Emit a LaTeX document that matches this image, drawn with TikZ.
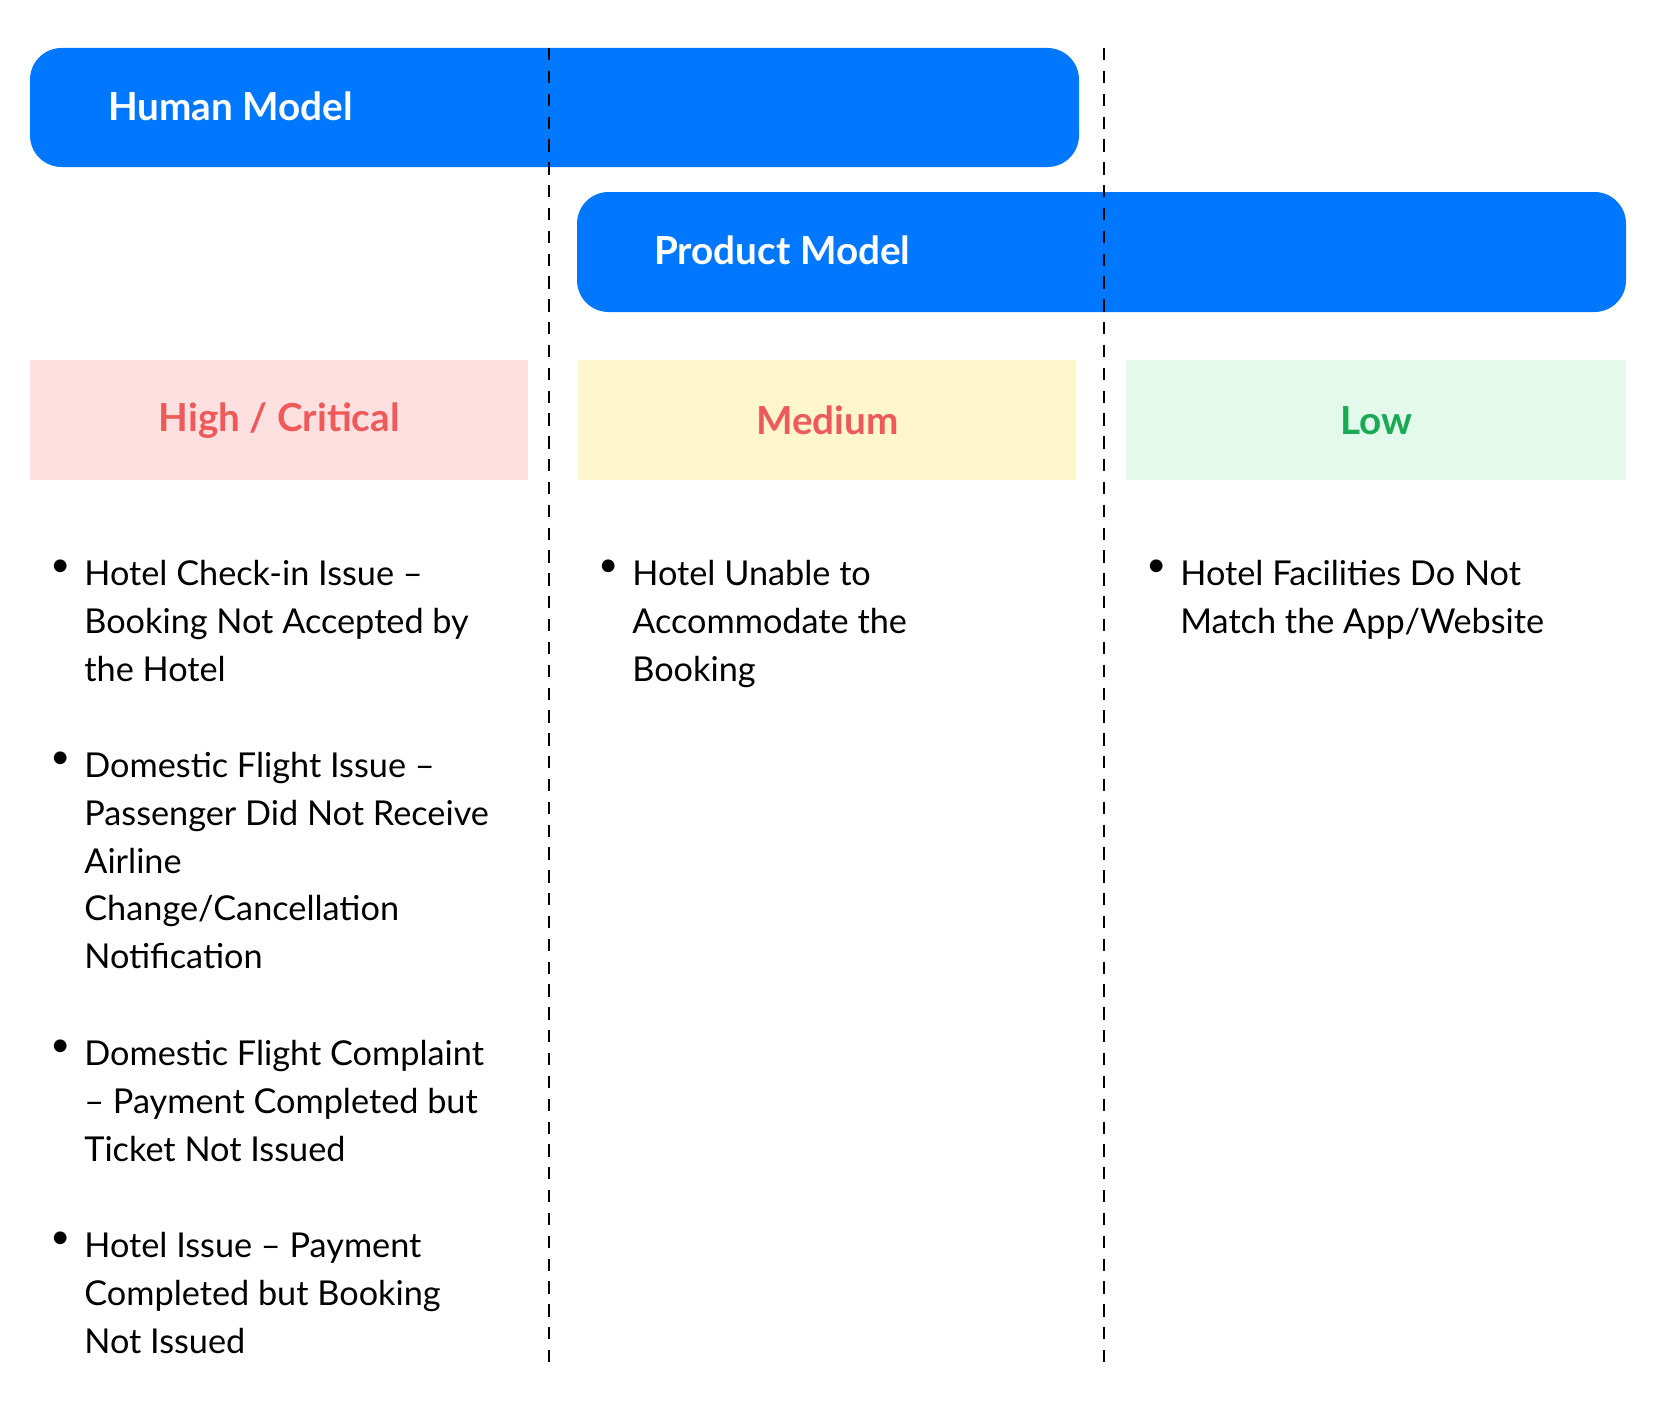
\documentclass[tikz,border=0pt]{standalone}
\usepackage{fontspec}
\setmainfont{Lato}
\usetikzlibrary{positioning}
\definecolor{brandblue}{HTML}{0077FF}
\definecolor{highbg}{HTML}{FFE0E0}
\definecolor{hightxt}{HTML}{EE5A5A}
\definecolor{medbg}{HTML}{FFF6CC}
\definecolor{lowbg}{HTML}{E3F9EC}
\definecolor{lowtxt}{HTML}{1AAA55}
\tikzset{
  model/.style={fill=brandblue, rounded corners=18pt},
  modeltitle/.style={anchor=west, text=white, font=\fontsize{22}{26}\selectfont\bfseries},
  levelbox/.style={minimum width=498*0.02cm, minimum height=120*0.02cm, inner sep=0pt, anchor=north west, font=\fontsize{22}{26}\selectfont\bfseries},
  item/.style={anchor=north west, align=left, inner sep=0pt, font=\fontsize{19.5}{27.2}\selectfont},
  dot/.style={anchor=north west, inner sep=0pt, font=\fontsize{19.5}{27.2}\selectfont},
  divider/.style={thick, dashed, dash pattern=on 7pt off 6pt}
}
\begin{document}
\begin{tikzpicture}[x=0.02cm, y=-0.02cm]
\useasboundingbox (0,0) rectangle (1656,1416);

% Model bars
\fill[model] (30,48) rectangle (1079,167);
\fill[model] (577,192) rectangle (1626,312);
\node[modeltitle] (human) at (102,106) {Human Model};
\node[modeltitle] (product) at (648,250) {Product Model};

% Dividers
\coordinate (d1top) at (549,48);
\coordinate (d1bot) at (549,1368);
\coordinate (d2top) at (1104,48);
\coordinate (d2bot) at (1104,1368);
\draw[divider] (d1top) -- (d1bot);
\draw[divider] (d2top) -- (d2bot);

% Severity levels
\node[levelbox, fill=highbg, text=hightxt] (high) at (30,360) {High / Critical};
\node[levelbox, fill=medbg, text=hightxt] (medium) at (578,360) {Medium};
\node[levelbox, fill=lowbg, text=lowtxt, minimum width=500*0.02cm] (low) at (1126,360) {Low};

% Items
\foreach \ypos/\txt in {560/{Hotel Check-in Issue --\\Booking Not Accepted by\\the Hotel},
  752/{Domestic Flight Issue --\\Passenger Did Not Receive\\Airline\\Change/Cancellation\\Notification},
  1040/{Domestic Flight Complaint\\-- Payment Completed but\\Ticket Not Issued},
  1232/{Hotel Issue -- Payment\\Completed but Booking\\Not Issued}}{
  \node[dot] at (50,\ypos) {\textbullet};
  \node[item] at (84,\ypos) {\txt};
}
\node[dot] (medbullet) at (598,560) {\textbullet};
\node[item] (meditem) at (632,560) {Hotel Unable to\\Accommodate the\\Booking};
\node[dot] (lowbullet) at (1146,560) {\textbullet};
\node[item] (lowitem) at (1180,560) {Hotel Facilities Do Not\\Match the App/Website};
\end{tikzpicture}
\end{document}
